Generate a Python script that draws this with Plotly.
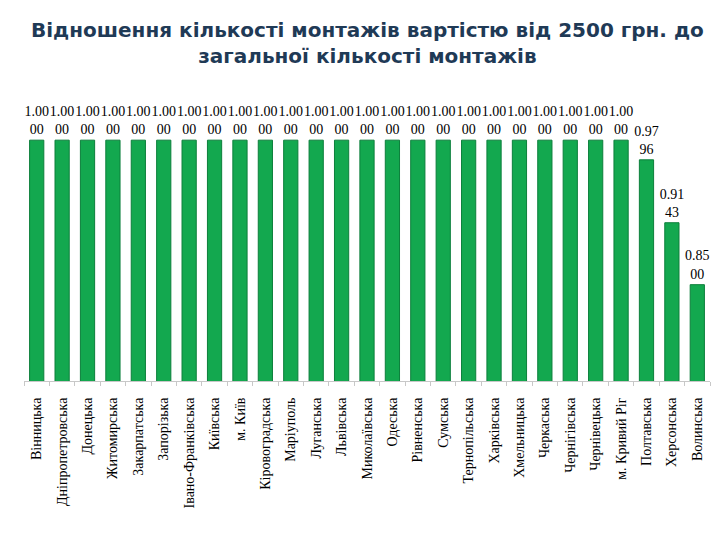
import plotly.graph_objects as go

regions = ["Вінницька", "Дніпропетровська", "Донецька", "Житомирська", "Закарпатська",
           "Запорізька", "Івано-Франківська", "Київська", "м. Київ", "Кіровоградська",
           "Маріуполь", "Луганська", "Львівська", "Миколаївська", "Одеська",
           "Рівненська", "Сумська", "Тернопільська", "Харківська", "Хмельницька",
           "Черкаська", "Чернігівська", "Чернівецька", "м. Кривий Ріг", "Полтавська",
           "Херсонська", "Волинська"]
values = [1.0] * 24 + [0.9796, 0.9143, 0.8500]

def fmt(v):
    s = f"{v:.4f}"
    return s[:4] + "<br>" + s[4:]

labels = [fmt(v) for v in values]

fig = go.Figure(go.Bar(
    x=regions, y=values, text=labels, textposition="outside",
    constraintext="none",
    textfont=dict(family="Liberation Serif", size=14, color="black"),
    marker=dict(color="#13a84f", line=dict(color="#0c7f3b", width=1)),
    width=0.56, cliponaxis=False,
))

fig.update_layout(
    width=712, height=532,
    paper_bgcolor="white", plot_bgcolor="white",
    margin=dict(l=16, r=10, t=84, b=159, autoexpand=False),
    showlegend=False,
    uniformtext=dict(mode=False),
    annotations=[dict(
        text="Відношення кількості монтажів вартістю від 2500 грн. до<br>загальної кількості монтажів",
        x=0.5, xref="paper", xanchor="center", y=1, yref="paper", yanchor="bottom",
        yshift=22, showarrow=False, align="center",
        font=dict(family="DejaVu Sans", size=20, color="#1f3a56", weight="bold"),
    )],
)
fig.update_xaxes(
    tickangle=-90, showline=True, linecolor="#c8c8c8", linewidth=1,
    ticks="outside", ticklen=4, tickcolor="#c8c8c8", tickson="boundaries",
    ticklabelstandoff=10,
    tickfont=dict(family="Liberation Serif", size=14, color="black"),
    showgrid=False, automargin=False,
)
fig.update_yaxes(range=[0.75, 1.05], visible=False, showgrid=False)

fig.write_html("out.html")
